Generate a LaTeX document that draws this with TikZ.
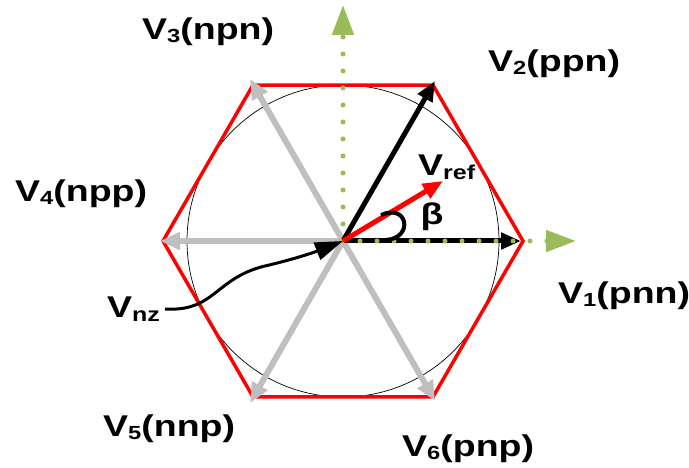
\documentclass[tikz,border=0pt]{standalone}
\usepackage{fontspec}
\setmainfont{Liberation Sans}
\usepackage{graphicx}
\usetikzlibrary{arrows.meta}
\definecolor{axgreen}{RGB}{155,187,89}
\definecolor{vgray}{RGB}{191,191,191}
\newcommand\vlab[2]{\scalebox{1.25}[1]{\fontsize{30}{32}\selectfont\bfseries V\raisebox{-3pt}{\fontsize{19}{19}\selectfont #1}(#2)}}
\newcommand\vsub[1]{\scalebox{1.25}[1]{\fontsize{30}{32}\selectfont\bfseries V\raisebox{-4pt}{\fontsize{20}{20}\selectfont #1}}}
\begin{document}
\begin{tikzpicture}[x=1pt,y=-1pt,
  grayarrow/.style={draw=vgray,line width=6pt,-{Triangle[length=20pt,width=17pt]}},
  blackarrow/.style={draw=black,line width=5pt,-{Triangle[length=20pt,width=16pt]}},
  refarrow/.style={draw=red,line width=5pt,-{Triangle[length=20pt,width=16pt]}},
  axis/.style={draw=axgreen,line width=5pt,line cap=round,dash pattern=on 0pt off 17pt,
     -{Triangle[length=30pt,width=21pt,fill=axgreen,line cap=butt]}},
  lab/.style={anchor=base west,inner sep=0pt}]
\useasboundingbox (0,0) rectangle (689,468);
\coordinate (O) at (343,241);
\coordinate (P1) at (523,241);
\coordinate (P2) at (433,85.1);
\coordinate (P3) at (253,85.1);
\coordinate (P4) at (163,241);
\coordinate (P5) at (253,396.9);
\coordinate (P6) at (433,396.9);
% circle and hexagon
\draw[line width=0.7pt] (O) circle[radius=156];
\draw[red,line width=3.5pt,line join=miter] (P1)--(P2)--(P3)--(P4)--(P5)--(P6)--cycle;
% gray vectors
\coordinate (T3) at (250,79);
\coordinate (T4) at (160,241);
\coordinate (T5) at (250,403);
\coordinate (T6) at (435,401);
\draw[grayarrow] (O) -- (T3);
\draw[grayarrow] (O) -- (T4);
\draw[grayarrow] (O) -- (T5);
\draw[grayarrow] (O) -- (T6);
% black vectors
\coordinate (T1) at (521,241);
\coordinate (T2) at (435,81);
\draw[blackarrow] (O) -- (T1);
\draw[blackarrow] (O) -- (T2);
% green axes
\coordinate (AX) at (576,241);
\coordinate (AY) at (343,5);
\draw[axis] (O) -- (AX);
\draw[axis] (O) -- (AY);
% reference vector
\coordinate (R) at (443,181);
\draw[refarrow] (O) -- (R);
% beta hook
\coordinate (B1) at (381,215);
\coordinate (B2) at (386,240);
\draw[line width=4pt] (B1) .. controls (408,203) and (414,238) .. (B2);
% Vnz curve
\coordinate (N) at (165,309);
\draw[line width=3pt,-{Triangle[length=28pt,width=18pt]}] (N) .. controls (215,312) and (215,278) .. (265,266) .. controls (295,259) and (315,252) .. (O);
% labels
\node[lab] (L3) at (142,40) {\vlab{3}{npn}};
\node[lab] (L2) at (488,72) {\vlab{2}{ppn}};
\node[lab] (L4) at (15,202) {\vlab{4}{npp}};
\node[lab] (L1) at (558,303) {\vlab{1}{pnn}};
\node[lab] (L5) at (103,436) {\vlab{5}{nnp}};
\node[lab] (L6) at (402,456) {\vlab{6}{pnp}};
\node[lab] (Lnz) at (107,317) {\vsub{nz}};
\node[lab] (Lref) at (418,176) {\vsub{ref}};
\node[anchor=center,inner sep=0pt] (Lb) at (432,217) {\scalebox{1.25}[1]{\fontsize{30}{32}\selectfont\bfseries β}};
\end{tikzpicture}
\end{document}
